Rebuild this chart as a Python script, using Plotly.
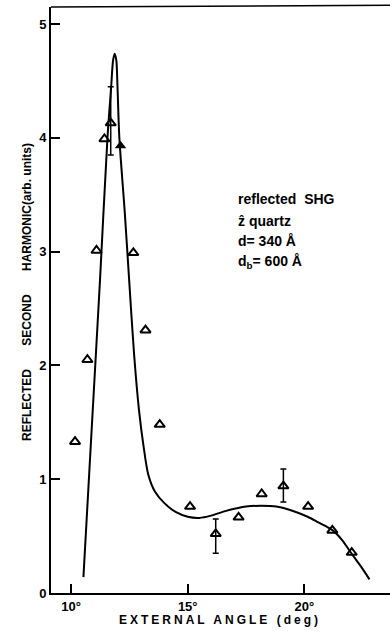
import plotly.graph_objects as go

# measured data (open triangles)
angles = [10.17, 10.70, 11.09, 11.43, 11.70, 12.67, 13.19, 13.80, 15.10, 16.20, 17.18, 18.17, 19.10, 20.16, 21.20, 22.03]
shg = [1.33, 2.05, 3.01, 3.99, 4.13, 2.99, 2.31, 1.48, 0.76, 0.52, 0.665, 0.87, 0.94, 0.76, 0.55, 0.355]

# filled triangle
filled_x = [12.12]
filled_y = [3.93]

# error bars
err_x = [11.70, 16.20, 19.10]
err_y = [4.13, 0.52, 0.94]
err_plus = [0.32, 0.13, 0.15]
err_minus = [0.28, 0.17, 0.14]

# theoretical curve
fit_x = [10.53, 10.93, 11.24, 11.56, 11.72, 11.80, 11.87, 11.94, 11.99, 12.07, 12.30, 12.49, 12.70,
         12.91, 13.10, 13.31, 13.60, 14.00, 14.50, 15.00, 15.50, 16.00, 16.53, 17.00, 17.50, 18.16,
         18.80, 19.39, 20.14, 20.60, 21.20, 21.60, 22.00, 22.40, 22.79]
fit_y = [0.14, 1.61, 2.75, 4.00, 4.45, 4.68, 4.74, 4.68, 4.45, 4.00, 3.35, 2.75, 2.10,
         1.61, 1.30, 1.04, 0.89, 0.79, 0.71, 0.67, 0.66, 0.68, 0.715, 0.74, 0.76, 0.767,
         0.76, 0.73, 0.67, 0.62, 0.553, 0.47, 0.354, 0.24, 0.12]

x_ticks = [10, 15, 20]
x_tick_labels = ["<b>10°</b>", "<b>15°</b>", "<b>20°</b>"]
y_ticks = [0, 1, 2, 3, 4, 5]
y_tick_labels = ["<b>0</b>", "<b>1</b>", "<b>2</b>", "<b>3</b>", "<b>4</b>", "<b>5</b>"]

FONT = "Liberation Sans, Arial, sans-serif"

fig = go.Figure()
fig.add_trace(go.Scatter(x=fit_x, y=fit_y, mode="lines",
                         line=dict(color="black", width=2, shape="spline", smoothing=0.8),
                         hoverinfo="skip", showlegend=False))
fig.add_trace(go.Scatter(x=err_x, y=err_y, mode="markers",
                         marker=dict(size=1, color="rgba(0,0,0,0)"),
                         error_y=dict(type="data", symmetric=False, array=err_plus, arrayminus=err_minus,
                                      color="black", thickness=1.5, width=3),
                         showlegend=False))
fig.add_trace(go.Scatter(x=angles, y=shg, mode="markers",
                         marker=dict(symbol="triangle-up-open", size=9, color="black", line=dict(width=2, color="black")),
                         showlegend=False))
fig.add_trace(go.Scatter(x=filled_x, y=filled_y, mode="markers",
                         marker=dict(symbol="triangle-up", size=10, color="black"),
                         showlegend=False))

fig.update_layout(
    width=390, height=631,
    margin=dict(l=51, r=0, t=7, b=38, autoexpand=False),
    paper_bgcolor="white", plot_bgcolor="white",
    font=dict(family=FONT, color="black"),
    xaxis=dict(range=[9.14, 23.67], tickvals=x_ticks, ticktext=x_tick_labels, automargin=False,
               ticks="inside", ticklen=9, tickwidth=1.5, tickcolor="black",
               showline=True, linecolor="black", linewidth=2, showgrid=False, zeroline=False,
               tickfont=dict(size=13, family=FONT, color="black")),
    yaxis=dict(range=[0, 5.15], tickvals=y_ticks, ticktext=y_tick_labels, automargin=False,
               ticks="inside", ticklen=9, tickwidth=1.5, tickcolor="black",
               showline=True, linecolor="black", linewidth=2, showgrid=False, zeroline=False,
               tickfont=dict(size=13, family=FONT, color="black")),
    shapes=[dict(type="line", xref="paper", yref="paper", x0=0, x1=1, y0=1, y1=1.003,
                 line=dict(color="black", width=1.5))],
)

sp = "\u00a0" * 7
annotations = [
    dict(text="<b>reflected  SHG</b>", x=17.07, y=3.46),
    dict(text="<b>ẑ quartz</b>", x=17.07, y=3.27),
    dict(text="<b>d= 340 Å</b>", x=17.07, y=3.09),
    dict(text="<b>d<sub>b</sub>= 600 Å</b>", x=17.07, y=2.91),
]
for a in annotations:
    fig.add_annotation(xref="x", yref="y", xanchor="left", yanchor="middle", showarrow=False,
                       font=dict(size=14, family=FONT, color="black"), **a)

fig.add_annotation(xref="paper", yref="paper", x=(219.5 - 51) / 339, y=(593 - 620) / 586,
                   xanchor="center", yanchor="middle", showarrow=False,
                   text='<span style="letter-spacing:3px"><b>EXTERNAL ANGLE (deg)</b></span>',
                   font=dict(size=12, family=FONT, color="black"))
fig.add_annotation(xref="paper", yref="paper", x=(27 - 51) / 339, y=(593 - 292) / 586,
                   xanchor="center", yanchor="middle", showarrow=False, textangle=-90,
                   text="<b>REFLECTED" + sp + "SECOND" + sp + "HARMONIC(arb. units)</b>",
                   font=dict(size=12, family=FONT, color="black"))

fig.write_html("out.html", config={"displayModeBar": False},
               post_script="document.body.style.margin='0';document.body.style.padding='0';")
